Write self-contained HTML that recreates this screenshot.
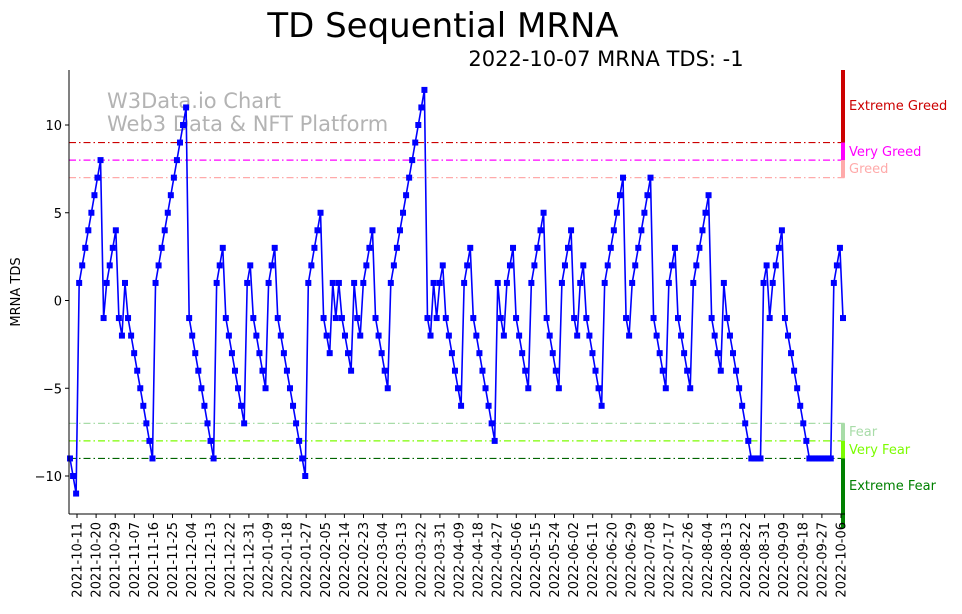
<!DOCTYPE html>
<html><head><meta charset="utf-8">
<style>
html,body{margin:0;padding:0;background:#fff;}
svg{display:block;font-family:"DejaVu Sans","Liberation Sans",sans-serif;}
</style></head>
<body>
<svg id="chart" width="962" height="614" viewBox="0 0 962 614" xmlns="http://www.w3.org/2000/svg">
  <text x="443" y="37" font-size="34" text-anchor="middle" fill="#000">TD Sequential MRNA</text>
  <text x="606" y="66" font-size="21" text-anchor="middle" fill="#000">2022-10-07 MRNA TDS: -1</text>
  <text x="107" y="108" font-size="21" fill="#b3b3b3">W3Data.io Chart</text>
  <text x="107" y="131" font-size="21" fill="#b3b3b3">Web3 Data &amp; NFT Platform</text>
  <text x="20" y="292" font-size="13" text-anchor="middle" transform="rotate(-90 20 292)">MRNA TDS</text>
  <g id="plot"></g>
</svg>
<script>
const tdValues = [
-9,-10,-11,1,2,3,4,5,6,7,8,-1,1,2,3,4,-1,-2,1,-1,-2,-3,-4,-5,-6,-7,-8,-9,1,2,3,4,5,6,7,8,9,10,11,-1,-2,-3,-4,-5,-6,
-7,-8,-9,1,2,3,-1,-2,-3,-4,-5,-6,-7,1,2,-1,-2,-3,-4,-5,1,2,3,-1,-2,-3,-4,-5,-6,-7,-8,-9,-10,1,2,3,4,5,-1,-2,-3,
1,-1,1,-1,-2,-3,-4,1,-1,-2,1,2,3,4,-1,-2,-3,-4,-5,1,2,3,4,5,6,7,8,9,10,11,12,-1,-2,1,-1,1,2,-1,-2,-3,-4,-5,
-6,1,2,3,-1,-2,-3,-4,-5,-6,-7,-8,1,-1,-2,1,2,3,-1,-2,-3,-4,-5,1,2,3,4,5,-1,-2,-3,-4,-5,1,2,3,4,-1,-2,1,2,
-1,-2,-3,-4,-5,-6,1,2,3,4,5,6,7,-1,-2,1,2,3,4,5,6,7,-1,-2,-3,-4,-5,1,2,3,-1,-2,-3,-4,-5,1,2,3,4,5,6,
-1,-2,-3,-4,1,-1,-2,-3,-4,-5,-6,-7,-8,-9,-9,-9,-9,1,2,-1,1,2,3,4,-1,-2,-3,-4,-5,-6,-7,-8,-9,-9,-9,-9,-9,-9,-9,-9,1,2,3,-1
];
const yTicks = [-10,-5,0,5,10];
const firstTickDate = "2021-10-11";
const tickStepDays = 9;
const tickCount = 41;
const levelValues = [9,8,7,-7,-8,-9];
const levelColors = ["#cc0000","#ff00ff","#ffaaaa","#a8dca8","#7cfc00","#006400"];

const NS="http://www.w3.org/2000/svg";
const plot=document.getElementById('plot');
const L=69,R=845,T=70,B=514;
const y=v=>300.5-17.55*v;
const xi=i=>70+i*(843-70)/(tdValues.length-1);
const x0=new Date(firstTickDate+"T00:00:00Z").getTime();
const xd=d=>77+(d-x0)/86400000*2.1222;
function mk(tag,attrs,parent){const e=document.createElementNS(NS,tag);for(const k in attrs)e.setAttribute(k,attrs[k]);(parent||plot).appendChild(e);return e;}

levelValues.forEach((v,k)=>{
  const l=mk('line',{x1:L,x2:R,y1:y(v),y2:y(v),stroke:levelColors[k],'stroke-width':1.2,'stroke-dasharray':'7,3,1.5,3'});
  
  
});
const bars=[[T,y(9),"#cc0000","extreme-greed-bar"],[y(9),y(8),"#ff00ff","very-greed-bar"],[y(8),y(7),"#ffaaaa","greed-bar"],
 [y(-7),y(-8),"#a8dca8","fear-bar"],[y(-8),y(-9),"#7cfc00","very-fear-bar"],[y(-9),528,"#008000","extreme-fear-bar"]];
bars.forEach(b=>{
  const r=mk('rect',{x:841,y:b[0],width:4,height:b[1]-b[0],fill:b[2]});
  
  
});
const zl=[["Extreme Greed",110,"#cc0000"],["Very Greed",156,"#ff00ff"],["Greed",173,"#ffaaaa"],["Fear",436,"#a8dca8"],["Very Fear",454,"#7cfc00"],["Extreme Fear",490,"#008000"]];
zl.forEach(z=>{
  const t=mk('text',{x:849,y:z[1],'font-size':13,fill:z[2]});t.textContent=z[0];
  
  
});
const pts=tdValues.map((v,i)=>xi(i).toFixed(2)+','+y(v).toFixed(2)).join(' ');
const pl=mk('polyline',{points:pts,fill:'none',stroke:'#0000ff','stroke-width':1.6});


tdValues.forEach((v,i)=>{
  const m=mk('rect',{x:xi(i)-3,y:y(v)-3,width:6,height:6,fill:'#0000ff'});
  
  
});
const ax=mk('line',{x1:L,x2:L,y1:T,y2:B,stroke:'#000','stroke-width':1});


const bx=mk('line',{x1:L,x2:R,y1:B,y2:B,stroke:'#000','stroke-width':1});


yTicks.forEach(v=>{
  mk('line',{x1:L-4,x2:L,y1:y(v),y2:y(v),stroke:'#000'});
  const t=mk('text',{x:L-7,y:y(v)+5,'font-size':13,'text-anchor':'end'});t.textContent=String(v).replace('-','\u2212');
  
  
});
for(let k=0;k<tickCount;k++){
  const d=x0+k*tickStepDays*86400000;
  const xx=xd(d);
  mk('line',{x1:xx,x2:xx,y1:B,y2:B+4,stroke:'#000'});
  const s=new Date(d).toISOString().slice(0,10);
  const t=mk('text',{x:xx+4.5,y:B+8,'font-size':13,'text-anchor':'end',transform:`rotate(-90 ${xx+4.5} ${B+8})`});
  t.textContent=s;
  
  
}
</script>
</body></html>
